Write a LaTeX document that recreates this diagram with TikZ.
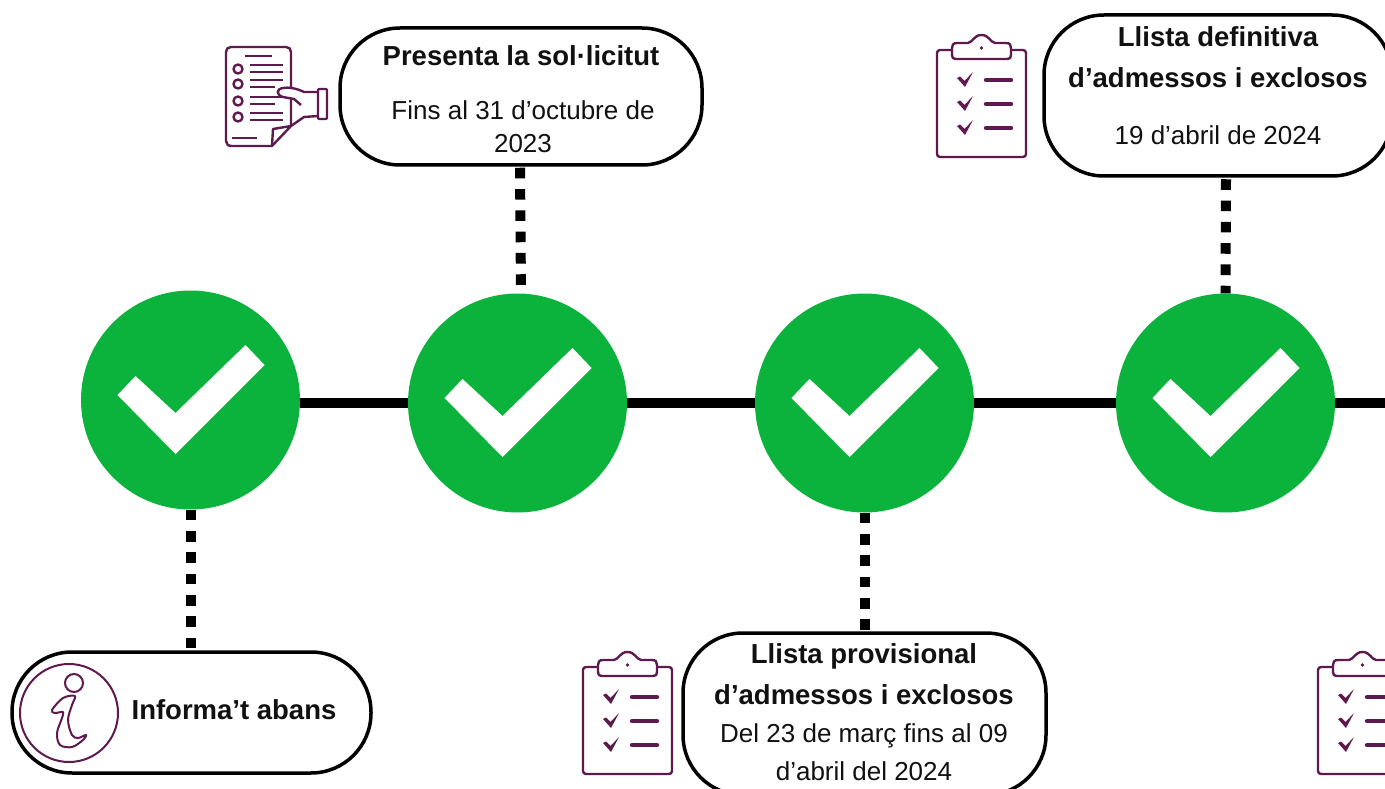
\documentclass[tikz,border=0pt]{standalone}
\usepackage{fontspec}
\setmainfont{Liberation Sans}
\definecolor{plum}{HTML}{5E1A4F}
\definecolor{okgreen}{HTML}{0BB33D}
\definecolor{ink}{HTML}{111111}
\tikzset{
    stage/.style={circle, fill=okgreen, minimum size=219pt, inner sep=0pt},
    bubble/.style={draw=black, line width=3.5pt, rounded corners=60pt, fill=white, inner sep=0pt},
    rail/.style={line width=10pt},
    dots/.style={line width=10pt, dash pattern=on 10.6pt off 10.7pt},
    title/.style={font=\fontsize{27.5}{41}\selectfont\bfseries, text=ink, align=center, inner sep=0pt},
    sub/.style={font=\fontsize{26}{33}\selectfont, text=ink, align=center, inner sep=0pt},
    icon/.style={draw=plum, line width=2.4pt, line join=round},
    iconbar/.style={draw=plum, line width=4.4pt, line cap=round},
    tick/.pic={
        \fill[white] (-73,-5) -- (-55,-24) -- (-15,13) -- (55,-55) -- (74,-35) -- (-15,54) -- cycle;
    },
    clipboard/.pic={
        \draw[icon, rounded corners=3pt] (0,0) rectangle (89,107);
        \draw[icon, fill=white] (20,-7) .. controls (16,-7) and (15,-5) .. (15,-2) -- (15,5)
            .. controls (15,8) and (16,9) .. (19,9) -- (70,9) .. controls (73,9) and (74,8) .. (74,5) -- (74,-2)
            .. controls (74,-5) and (73,-7) .. (69,-7) -- (58,-7)
            .. controls (53,-8) and (52,-15) .. (44.5,-15) .. controls (37,-15) and (36,-8) .. (31,-7) -- cycle;
        \fill[plum] (44.5,-2) circle (1.8);
        \foreach \row in {0,24,48} {
            \fill[plum] (20,28+\row) -- (23,26.5+\row) -- (27.5,31+\row) -- (36,22+\row) -- (28,37+\row) -- cycle;
            \draw[iconbar] (49,30+\row) -- (74,30+\row);
        }
    }
}
\begin{document}
\begin{tikzpicture}[x=1pt, y=-1pt]
    \useasboundingbox (0,0) rectangle (1385,789);

    % Stages
    \node (c1) [stage] at (190.5,400) {};
    \node (c2) [stage] at (517.5,403) {};
    \node (c3) [stage] at (864.5,403) {};
    \node (c4) [stage] at (1225.5,403) {};
    \coordinate (railend) at (1385,403);
    \pic at (c1) {tick};
    \pic at (c2) {tick};
    \pic at (c3) {tick};
    \pic at (c4) {tick};

    % Bubbles
    \node (b1) [bubble, minimum width=362pt, minimum height=137pt] at (521,96.5) {};
    \node (b2) [bubble, minimum width=359pt, minimum height=121pt] at (191.5,712.5) {};
    \node (b3) [bubble, minimum width=363pt, minimum height=162pt] at (864.5,714) {};
    \node (b4) [bubble, minimum width=348pt, minimum height=161pt] at (1218,95.5) {};

    % Texts
    \node (t1) [title] at (521,56) {Presenta la sol·licitut};
    \node (s1) [sub, font=\fontsize{26}{33}\selectfont] at (523,127) {Fins al 31 d’octubre de\\2023};
    \node (t2) [title] at (234,710) {Informa’t abans};
    \node (t3) [title] at (864,674) {Llista provisional\\d’admessos i exclosos};
    \node (s3) [sub, font=\fontsize{26}{38}\selectfont] at (864,752) {Del 23 de març fins al 09\\d’abril del 2024};
    \node (t4) [title] at (1218,57) {Llista definitiva\\d’admessos i exclosos};
    \node (s4) [sub] at (1218,135) {19 d’abril de 2024};

    % Edges
    \draw[rail] (c1.east |- c2.west) -- (c2.west);
    \draw[rail] (c2) -- (c3);
    \draw[rail] (c3) -- (c4);
    \draw[rail] (c4) -- (railend);
    \draw[dots] (c1.south) ++(0,0) -- (c1.south |- b2.north);
    \draw[dots] (b1.south) ++(-1,1) -- (c2.north -| b1.south);
    \draw[dots] (c3.south) -- (b3.north);
    \draw[dots] (b4.south) ++(8,1.5) -- (c4.north);

    % Icons
    \pic at (937,50) {clipboard};
    \pic at (583,667) {clipboard};
    \pic at (1318,667) {clipboard};

    % Form with hand
    \draw[icon] (272,146) -- (232,146) .. controls (228,146) and (226,144) .. (226,141) -- (226,52)
        .. controls (226,49) and (228,47) .. (231,47) -- (286,47) .. controls (289,47) and (291,49) .. (291,52) -- (291,126) -- cycle;
    \draw[icon] (272,146) -- (273,129) -- (291,126);
    \draw[icon] (245,56) -- (272,56);
    \foreach \yy/\xe in {69/283,84/275,101/275,117/283} {
        \draw[icon] (238,\yy) circle (4.5);
        \draw[icon] (250,\yy-4) -- (283,\yy-4);
        \draw[icon] (250,\yy+3) -- (\xe,\yy+3);
    }
    \draw[icon] (232,138) -- (257,138);
    \fill[white] (318,92) -- (304,92) .. controls (296,88) and (288,87) .. (283,88)
        .. controls (276,89) and (276,95) .. (283,97) -- (296,100) -- (300,118) -- (318,116) -- cycle;
    \draw[icon] (318,92) -- (304,92) .. controls (296,88) and (288,87) .. (283,88)
        .. controls (276,89) and (276,95) .. (283,97) -- (294,99) -- (301,105);
    \draw[icon] (318,116) -- (304,117) -- (291,126);
    \draw[icon, rounded corners=1pt] (318,89) rectangle (327,119);

    % Info sign
    \draw[icon, line width=2pt] (69,713) circle (49);
    \draw[icon, line width=2pt] (74,683) circle (9);
    \draw[icon, line width=2pt] plot[smooth cycle, tension=0.55] coordinates {(52,710) (63,698) (75,696) (72,705) (68,720) (72,735) (78,738) (86,735) (83,740) (72,747) (60,745) (57,733) (62,718) (63,712) (55,713)};
\end{tikzpicture}
\end{document}
